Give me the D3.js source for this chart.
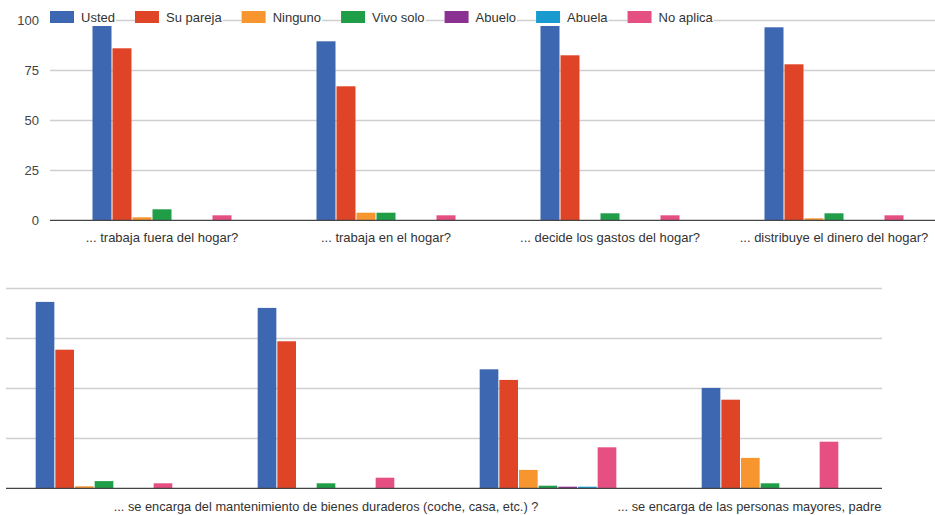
<!DOCTYPE html>
<html><head><meta charset="utf-8">
<script src="https://cdn.jsdelivr.net/npm/d3@7"></script>
<style>
html,body{margin:0;padding:0;background:#fff;}
svg{display:block;font-family:Arial,"Liberation Sans",sans-serif;}
</style></head>
<body>
<svg id="c" width="935" height="515"></svg>
<script>
const series = ["Usted","Su pareja","Ninguno","Vivo solo","Abuelo","Abuela","No aplica"];
const colors = ["#3d67b1","#e04426","#f7962f","#1f9e47","#8a3192","#1a9bd0","#e54f82"];
const topCategories = ["... trabaja fuera del hogar?","... trabaja en el hogar?","... decide los gastos del hogar?","... distribuye el dinero del hogar?"];
const topValues = [
  [98, 86, 1.5, 5.5, 0, 0, 2.5],
  [89.5, 67, 3.8, 3.8, 0, 0, 2.5],
  [98, 82.5, 0, 3.5, 0, 0, 2.5],
  [96.5, 78, 1, 3.5, 0, 0, 2.5]
];
const bottomCategories = ["... se encarga de las tareas del hogar?","... se encarga del mantenimiento de bienes duraderos (coche, casa, etc.) ?","... se encarga de los hijos?","... se encarga de las personas mayores, padres, etc.?"];
const bottomShownLabels = [false, true, false, true];
const bottomValues = [
  [93.2, 69.3, 1, 3.6, 0, 0, 2.5],
  [90.2, 73.5, 0, 2.5, 0, 0, 5.3],
  [59.5, 54.2, 9.2, 1.3, 0.8, 0.8, 20.5],
  [50.2, 44.3, 15.2, 2.5, 0, 0, 23.3]
];
const yTicks = [0, 25, 50, 75, 100];

const svg = d3.select("#c");
const defs = svg.append("defs");

function panel(opts){
  const g = svg.append("g");
  const clipId = "clip" + opts.id;
  defs.append("clipPath").attr("id", clipId).append("rect")
    .attr("x", opts.clipX0).attr("y", 0).attr("width", opts.clipX1 - opts.clipX0).attr("height", 515);
  const cg = g.append("g").attr("clip-path", "url(#" + clipId + ")");
  const x0 = d3.scaleBand().domain(opts.cats).range(opts.xRange)
    .paddingInner(opts.padIn).paddingOuter(opts.padIn/2);
  const x1 = d3.scaleBand().domain(series).range([0, x0.bandwidth()]);
  const y = d3.scaleLinear().domain([0,100]).range(opts.yRange);
  // gridlines
  cg.append("g").selectAll("line").data(yTicks.filter(t => t > 0)).join("line")
    .attr("x1", opts.gridX0).attr("x2", opts.gridX1)
    .attr("y1", d => Math.round(y(d)) + 0.5).attr("y2", d => Math.round(y(d)) + 0.5)
    .attr("stroke", "#cfcfcf").attr("stroke-width", 1.3);
  // y labels
  if (opts.showY) {
    g.append("g").selectAll("text").data(yTicks).join("text")
      .attr("x", opts.gridX0 - 11).attr("y", d => y(d)).attr("dy", "0.35em")
      .attr("text-anchor", "end").attr("font-size", 13).attr("fill", "#444")
      .text(d => d);
  }
  // bars
  const groups = cg.append("g").selectAll("g").data(opts.values).join("g")
    .attr("transform", (d,i) => `translate(${x0(opts.cats[i])},0)`);
  groups.selectAll("rect").data(d => d.map((v,j) => ({v, s: series[j], c: colors[j]}))).join("rect")
    .filter(d => d.v > 0)
    .attr("x", d => x1(d.s) + 0.5)
    .attr("width", x1.bandwidth() - 1)
    .attr("y", d => y(d.v))
    .attr("height", d => y(0) - y(d.v))
    .attr("fill", d => d.c);
  // baseline
  cg.append("line").attr("x1", opts.gridX0).attr("x2", opts.gridX1)
    .attr("y1", y(0)).attr("y2", y(0)).attr("stroke", "#444").attr("stroke-width", 1.3);
  // x labels
  cg.append("g").selectAll("text").data(opts.cats).join("text")
    .filter((d,i) => opts.shown[i])
    .attr("x", d => x0(d) + x0.bandwidth()/2).attr("y", opts.labelY)
    .attr("text-anchor", "middle").attr("font-size", opts.labelSize).attr("fill", "#333")
    .text(d => d);
  return {x0, y};
}

const topP = panel({id: 1, cats: topCategories, values: topValues, shown: [true,true,true,true],
  xRange: [50, 946], padIn: 0.375, yRange: [220.3, 20.3], gridX0: 50, gridX1: 935,
  clipX0: 0, clipX1: 935, showY: true, labelY: 242, labelSize: 13});
const botP = panel({id: 2, cats: bottomCategories, values: bottomValues, shown: bottomShownLabels,
  xRange: [-7, 881], padIn: 0.38, yRange: [488.3, 288.3], gridX0: 6, gridX1: 882,
  clipX0: 0, clipX1: 882, showY: false, labelY: 511, labelSize: 12.8});

// legend
const leg = svg.append("g");
let lx = 50;
series.forEach((s, i) => {
  const it = leg.append("g");
  const bg = it.append("rect").attr("fill", "#fff");
  it.append("rect").attr("x", lx).attr("y", 11).attr("width", 24).attr("height", 12).attr("fill", colors[i]);
  const t = it.append("text").attr("x", lx + 31).attr("y", 17).attr("dy", "0.35em")
    .attr("font-size", 13).attr("fill", "#333").text(s);
  const w = t.node().getComputedTextLength();
  bg.attr("x", lx).attr("y", 8).attr("width", 31 + w + 1).attr("height", 18);
  lx += 31 + w + 20;
});
</script>
</body></html>
